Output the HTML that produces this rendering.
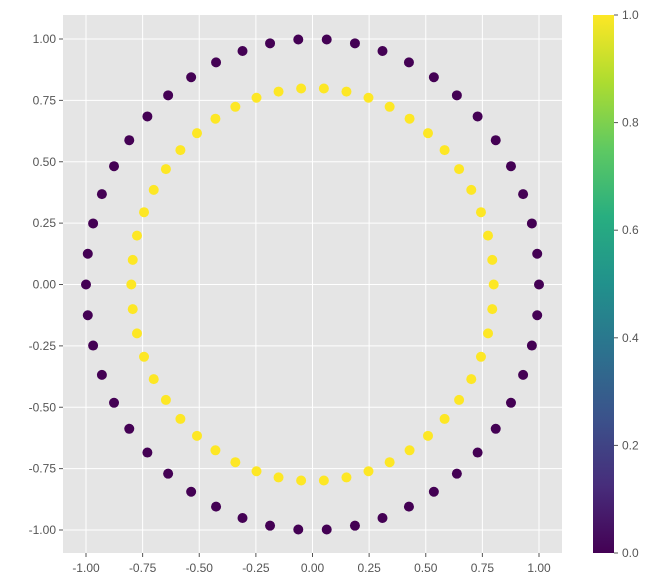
<!DOCTYPE html>
<html><head><meta charset="utf-8"><style>
body{margin:0;background:#fff;font-family:"Liberation Sans",sans-serif;}
svg{display:block}
</style></head><body>
<svg id="chart" width="657" height="588" xmlns="http://www.w3.org/2000/svg">
<defs><linearGradient id="vir" x1="0" y1="1" x2="0" y2="0">
<stop offset="0" stop-color="#440154"/><stop offset="0.125" stop-color="#472d7b"/><stop offset="0.25" stop-color="#3b528b"/><stop offset="0.375" stop-color="#2c728e"/><stop offset="0.5" stop-color="#21918c"/><stop offset="0.625" stop-color="#28ae80"/><stop offset="0.75" stop-color="#5ec962"/><stop offset="0.875" stop-color="#addc30"/><stop offset="1" stop-color="#fde725"/>
</linearGradient></defs>
</svg>
<script>
const outerX=[1,.9921,.9686,.9298,.8763,.8090,.7290,.6374,.5358,.4258,.3090,.1874,.0628,-.0628,-.1874,-.3090,-.4258,-.5358,-.6374,-.7290,-.8090,-.8763,-.9298,-.9686,-.9921,-1,-.9921,-.9686,-.9298,-.8763,-.8090,-.7290,-.6374,-.5358,-.4258,-.3090,-.1874,-.0628,.0628,.1874,.3090,.4258,.5358,.6374,.7290,.8090,.8763,.9298,.9686,.9921];
const outerY=[0,.1253,.2487,.3681,.4818,.5878,.6845,.7705,.8443,.9048,.9511,.9823,.9980,.9980,.9823,.9511,.9048,.8443,.7705,.6845,.5878,.4818,.3681,.2487,.1253,0,-.1253,-.2487,-.3681,-.4818,-.5878,-.6845,-.7705,-.8443,-.9048,-.9511,-.9823,-.9980,-.9980,-.9823,-.9511,-.9048,-.8443,-.7705,-.6845,-.5878,-.4818,-.3681,-.2487,-.1253];
const innerX=[.8,.7937,.7749,.7438,.7010,.6472,.5832,.5099,.4286,.3406,.2472,.1499,.0502,-.0502,-.1499,-.2472,-.3406,-.4286,-.5099,-.5832,-.6472,-.7010,-.7438,-.7749,-.7937,-.8,-.7937,-.7749,-.7438,-.7010,-.6472,-.5832,-.5099,-.4286,-.3406,-.2472,-.1499,-.0502,.0502,.1499,.2472,.3406,.4286,.5099,.5832,.6472,.7010,.7438,.7749,.7937];
const innerY=[0,.1002,.1990,.2945,.3854,.4702,.5476,.6164,.6754,.7238,.7608,.7858,.7984,.7984,.7858,.7608,.7238,.6754,.6164,.5476,.4702,.3854,.2945,.1990,.1002,0,-.1002,-.1990,-.2945,-.3854,-.4702,-.5476,-.6164,-.6754,-.7238,-.7608,-.7858,-.7984,-.7984,-.7858,-.7608,-.7238,-.6754,-.6164,-.5476,-.4702,-.3854,-.2945,-.1990,-.1002];
const xTicks=[-1,-0.75,-0.5,-0.25,0,0.25,0.5,0.75,1];
const yTicks=[-1,-0.75,-0.5,-0.25,0,0.25,0.5,0.75,1];
const cbTicks=[0,0.2,0.4,0.6,0.8,1];
const NS="http://www.w3.org/2000/svg";
const svg=document.getElementById('chart');
const L=63,R=562,T=15,B=553;
const sx=v=>312.5+v*226.5, sy=v=>284.5-v*245.5;
function mk(t,a,p){const e=document.createElementNS(NS,t);for(const k in a)e.setAttribute(k,a[k]);(p||svg).appendChild(e);return e;}
const bg=mk('rect',{x:L,y:T,width:R-L,height:B-T,fill:'#e5e5e5'});


xTicks.forEach(v=>{const x=sx(v);
 const g=mk('line',{x1:x,x2:x,y1:T,y2:B,stroke:'#fff','stroke-width':1});
 
 
 mk('line',{x1:x,x2:x,y1:B,y2:B+4,stroke:'#555'});
 const t=mk('text',{x:x,y:B+19,'text-anchor':'middle','font-size':12,fill:'#555'});t.textContent=v.toFixed(2);
 
 });
yTicks.forEach(v=>{const y=sy(v);
 const g=mk('line',{x1:L,x2:R,y1:y,y2:y,stroke:'#fff','stroke-width':1});
 
 
 mk('line',{x1:L-4,x2:L,y1:y,y2:y,stroke:'#555'});
 const t=mk('text',{x:L-7,y:y+4,'text-anchor':'end','font-size':12,fill:'#555'});t.textContent=v.toFixed(2);
 
 });
function pts(X,Y,col,name){X.forEach((v,i)=>{const c=mk('circle',{cx:sx(v),cy:sy(Y[i]),r:5,fill:col});
 
 });}
pts(outerX,outerY,'#440154','outer-point');
pts(innerX,innerY,'#fde725','inner-point');
const CL=593,CR=614;
const cb=mk('rect',{x:CL,y:T,width:CR-CL,height:B-T,fill:'url(#vir)'});


cbTicks.forEach(v=>{const y=B-v*(B-T);
 mk('line',{x1:CR,x2:CR+4,y1:y,y2:y,stroke:'#555'});
 const t=mk('text',{x:CR+8,y:y+4,'font-size':12,fill:'#555'});t.textContent=v.toFixed(1);
 
 });
</script>
</body></html>
